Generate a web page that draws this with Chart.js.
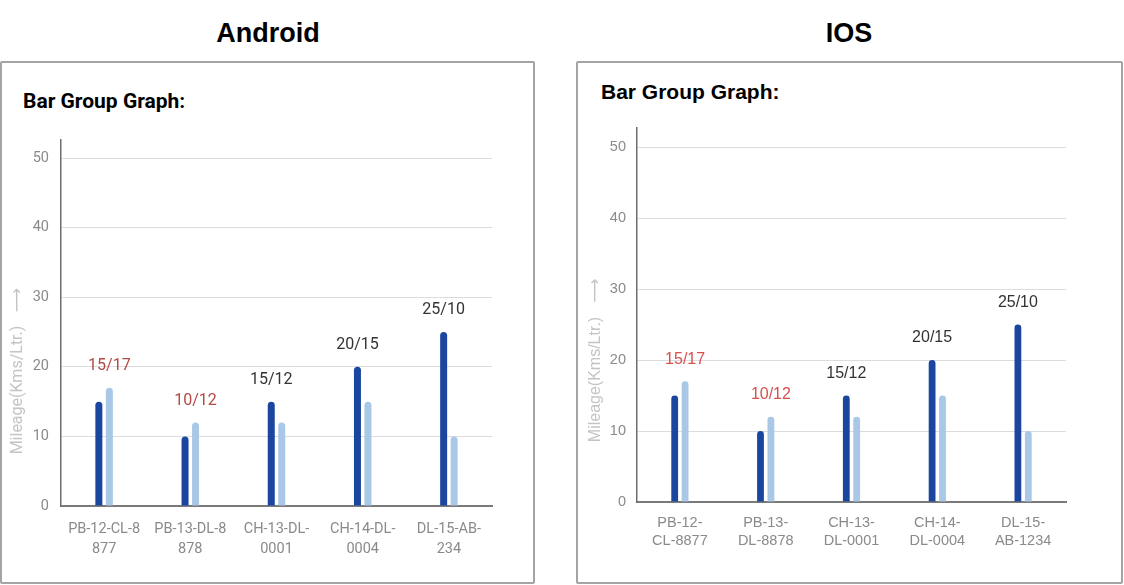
<!DOCTYPE html>
<html>
<head>
<meta charset="utf-8">
<script src="https://cdn.jsdelivr.net/npm/chart.js@4.4.0/dist/chart.umd.min.js"></script>
<style>
  html, body { margin:0; padding:0; background:#fff; width:1124px; height:585px; overflow:hidden; }
  .ttl { position:absolute; top:18px; font-family:"Liberation Sans", Arial, sans-serif; font-weight:bold; font-size:27px; color:#000; text-align:center; }
  .box { position:absolute; border:2px solid #a4a4a4; border-radius:2px; box-sizing:border-box; }
  .sub { position:absolute; font-weight:bold; font-size:21px; color:#000; }
  .cv { position:absolute; }
</style>
</head>
<body>
<div class="ttl" style="left:168px;width:200px;">Android</div>
<div class="ttl" style="left:749px;width:200px;">IOS</div>

<div class="box" style="left:0px;top:61px;width:535px;height:523px;"></div>
<div class="box" style="left:576px;top:61px;width:547px;height:523px;"></div>

<div class="sub" style="left:23px;top:89px;font-family:Roboto, sans-serif;">Bar Group Graph:</div>
<div class="sub" style="left:601px;top:80px;font-family:'Liberation Sans', Arial, sans-serif;">Bar Group Graph:</div>

<div class="cv" style="left:0px;top:130px;width:535px;height:450px;"><canvas id="cA"></canvas></div>
<div class="cv" style="left:577px;top:120px;width:545px;height:450px;"><canvas id="cI"></canvas></div>

<script>
// ---- data ----
const categories = ['PB-12-CL-8877', 'PB-13-DL-8878', 'CH-13-DL-0001', 'CH-14-DL-0004', 'DL-15-AB-1234'];
const seriesA = [15, 10, 15, 20, 25];
const seriesB = [17, 12, 12, 15, 10];
const androidTickLabels = [['PB-12-CL-8', '877'], ['PB-13-DL-8', '878'], ['CH-13-DL-', '0001'], ['CH-14-DL-', '0004'], ['DL-15-AB-', '234']];
const iosTickLabels = [['PB-12-', 'CL-8877'], ['PB-13-', 'DL-8878'], ['CH-13-', 'DL-0001'], ['CH-14-', 'DL-0004'], ['DL-15-', 'AB-1234']];
const yTicks = [0, 10, 20, 30, 40, 50];
const yTitle = 'Mileage(Kms/Ltr.)';
const yArrow = '\u27F6';

function labelPlugin(font, dark, red) {
  return {
    id: 'pairLabels',
    afterDatasetsDraw(chart) {
      const ctx = chart.ctx;
      const m0 = chart.getDatasetMeta(0), m1 = chart.getDatasetMeta(1);
      ctx.save();
      ctx.font = font;
      ctx.textAlign = 'center';
      ctx.textBaseline = 'middle';
      for (let i = 0; i < categories.length; i++) {
        const a = seriesA[i], b = seriesB[i];
        const el = b > a ? m1.data[i] : m0.data[i];
        ctx.fillStyle = b > a ? red : dark;
        ctx.fillText(a + '/' + b, el.x, el.y - 22);
      }
      ctx.restore();
    }
  };
}

function titlePlugin(opt) {
  return {
    id: 'yTitle',
    afterDraw(chart) {
      const ctx = chart.ctx;
      ctx.save();
      ctx.fillStyle = '#c4c4c4';
      ctx.textAlign = 'center';
      ctx.textBaseline = 'middle';
      ctx.translate(opt.tx, opt.ty);
      ctx.rotate(-Math.PI / 2);
      ctx.font = '16px ' + opt.family;
      ctx.fillText(yTitle, 0, 0);
      ctx.restore();
      ctx.save();
      ctx.fillStyle = '#c4c4c4';
      ctx.textAlign = 'center';
      ctx.textBaseline = 'middle';
      ctx.translate(opt.tx, opt.ay);
      ctx.rotate(-Math.PI / 2);
      ctx.font = '17px "DejaVu Sans"';
      ctx.fillText(yArrow, 0, 0);
      ctx.restore();
    }
  };
}

function makeChart(id, opt) {
  const catW = opt.plotW / categories.length;
  const catPct = opt.chunk * 2 / catW;
  const barPct = opt.barW / opt.chunk;
  const radius = {topLeft: 4, topRight: 4, bottomLeft: 0, bottomRight: 0};
  return new Chart(document.getElementById(id), {
    type: 'bar',
    data: {
      labels: opt.tickLabels,
      datasets: [
        { data: seriesA, backgroundColor: '#1b46a0', borderRadius: radius, borderSkipped: 'start', categoryPercentage: catPct, barPercentage: barPct },
        { data: seriesB, backgroundColor: '#a9c7e6', borderRadius: radius, borderSkipped: 'start', categoryPercentage: catPct, barPercentage: barPct }
      ]
    },
    options: {
      responsive: true,
      maintainAspectRatio: false,
      animation: false,
      layout: { padding: { top: opt.padTop, right: opt.padRight, left: 0, bottom: 0 } },
      plugins: { legend: { display: false }, tooltip: { enabled: false } },
      scales: {
        x: {
          afterFit(s) { s.height = opt.xH; s.paddingLeft = 0; s.paddingRight = 0; },
          grid: { display: false },
          border: { display: true, color: '#7a7a7a', width: 2 },
          ticks: { color: '#8a8a8a', font: { family: opt.family, size: 14.5, lineHeight: opt.xLine }, padding: opt.xPad, maxRotation: 0, autoSkip: false }
        },
        y: {
          min: 0,
          max: opt.max,
          afterFit(s) { s.width = opt.yW; s.paddingTop = 0; s.paddingBottom = 0; },
          afterBuildTicks(s) { s.ticks = yTicks.map(v => ({ value: v })); },
          grid: { color: '#dcdcdc', lineWidth: 1, drawTicks: false },
          border: { display: true, color: '#6e6e6e', width: 1.5 },
          ticks: { color: '#8a8a8a', font: { family: opt.family, size: 14.5 }, padding: opt.yPad },
          title: { display: false }
        }
      }
    },
    plugins: [labelPlugin('16px ' + opt.family, '#333333', opt.red), titlePlugin(opt)]
  });
}

makeChart('cA', {
  tickLabels: androidTickLabels, family: 'Roboto', plotW: 431, chunk: 10.5, barW: 7,
  padTop: 10, padRight: 43, xH: 74, yW: 61, max: 52.6, xLine: 1.35, xPad: 6, yPad: 12, red: '#b14a47',
  tx: 18, ty: 260, ay: 170
});
makeChart('cI', {
  tickLabels: iosTickLabels, family: '"Liberation Sans"', plotW: 429, chunk: 10.4, barW: 6.8,
  padTop: 8, padRight: 56, xH: 68, yW: 60, max: 52.7, xLine: 1.25, xPad: 4, yPad: 11, red: '#d6504c',
  tx: 19, ty: 259.5, ay: 170.5
});
</script>
</body>
</html>
